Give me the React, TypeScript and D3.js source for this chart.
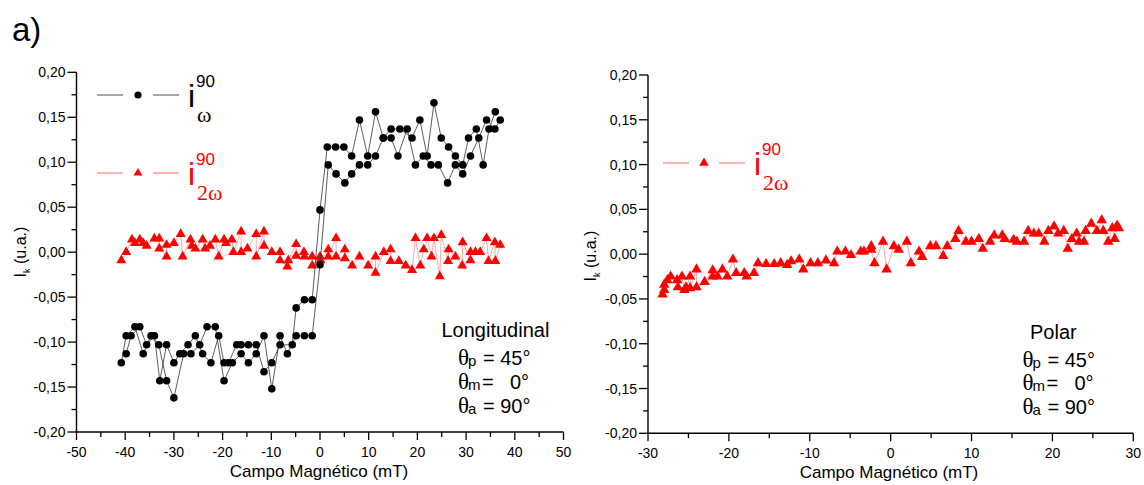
import React from "react";
import * as d3 from "d3";

// ---------- DATA ----------
// Left panel (Longitudinal): i_ω^90, forward and backward field sweeps
const fieldFwdL = [-40.8, -39.8, -38.0, -36.3, -34.7, -33.1, -31.5, -30.0, -28.0, -26.5, -24.7, -23.2, -21.5, -19.7, -18.0, -16.2, -14.7, -13.1, -11.5, -9.9, -8.2, -6.7, -4.9, -3.2, -1.6, 0.0, 1.7, 3.3, 5.1, 6.5, 8.1, 9.8, 11.4, 13.0, 14.6, 16.0, 17.9, 19.6, 21.2, 22.8, 24.3, 26.2, 27.8, 29.3, 30.9, 32.6, 34.2, 35.9, 37.0];
const iOmegaFwd = [-0.123, -0.093, -0.083, -0.113, -0.093, -0.103, -0.143, -0.162, -0.113, -0.113, -0.103, -0.083, -0.083, -0.143, -0.123, -0.113, -0.123, -0.113, -0.093, -0.152, -0.093, -0.113, -0.093, -0.093, -0.093, -0.014, 0.097, 0.087, 0.077, 0.087, 0.097, 0.097, 0.107, 0.127, 0.127, 0.107, 0.137, 0.097, 0.107, 0.097, 0.097, 0.077, 0.097, 0.087, 0.107, 0.127, 0.147, 0.137, 0.147];
const fieldBwdL = [-39.8, -38.8, -37.0, -35.6, -34.0, -32.9, -31.5, -30.0, -28.8, -27.1, -25.6, -24.1, -22.4, -20.8, -19.7, -18.8, -17.1, -16.2, -14.7, -13.1, -11.5, -9.9, -8.2, -5.7, -4.9, -3.2, -1.6, 0.0, 1.5, 3.2, 4.9, 6.5, 8.1, 9.8, 11.4, 13.0, 14.6, 16.4, 18.9, 20.5, 22.0, 23.4, 24.9, 26.4, 27.8, 29.3, 30.5, 32.1, 33.5, 34.7, 36.0];
const iOmegaBwd = [-0.113, -0.093, -0.083, -0.103, -0.093, -0.143, -0.103, -0.123, -0.113, -0.103, -0.093, -0.113, -0.123, -0.093, -0.123, -0.123, -0.103, -0.103, -0.103, -0.103, -0.133, -0.123, -0.103, -0.103, -0.062, -0.053, -0.053, 0.047, 0.117, 0.117, 0.117, 0.107, 0.147, 0.107, 0.156, 0.127, 0.137, 0.137, 0.127, 0.147, 0.107, 0.166, 0.127, 0.117, 0.107, 0.097, 0.127, 0.137, 0.097, 0.137, 0.156];

// Left panel: i_2ω^90
const field2wL = [-40.8, -39.8, -38.6, -38.0, -37.0, -36.3, -35.6, -34.0, -33.0, -33.0, -31.5, -31.5, -30.0, -28.6, -28.2, -26.6, -26.3, -25.6, -24.1, -23.6, -22.6, -21.5, -20.8, -19.7, -19.3, -18.1, -17.8, -16.2, -16.2, -14.9, -13.1, -13.1, -11.5, -11.5, -9.9, -8.2, -8.2, -6.7, -6.5, -4.9, -4.9, -3.3, -3.2, -1.6, -1.6, 0.0, 0.1, 1.7, 1.7, 3.3, 3.3, 5.1, 5.1, 6.6, 8.1, 9.9, 11.4, 11.4, 13.1, 14.5, 14.5, 16.2, 17.6, 18.9, 19.6, 20.6, 21.3, 22.0, 22.9, 23.4, 24.6, 24.9, 26.3, 26.4, 27.8, 29.2, 29.3, 30.9, 30.9, 31.9, 32.9, 34.2, 34.6, 35.9, 36.0, 37.0];
const i2wL = [-0.009, 0.0, 0.014, 0.010, 0.014, 0.010, 0.007, 0.015, 0.015, 0.004, -0.005, 0.008, 0.010, 0.020, -0.005, 0.014, 0.007, 0.004, 0.014, 0.004, 0.007, 0.014, -0.005, 0.014, 0.010, 0.014, 0.0, 0.023, 0.0, 0.004, 0.020, -0.005, 0.023, 0.007, 0.0, 0.0, -0.009, -0.016, -0.009, 0.009, -0.004, 0.0, -0.005, -0.005, -0.015, -0.005, -0.009, 0.003, -0.005, 0.0155, -0.005, 0.003, -0.007, -0.015, -0.005, -0.015, -0.005, -0.023, 0.0, 0.003, -0.010, -0.010, -0.015, -0.020, 0.0155, -0.015, 0.003, 0.0155, -0.005, 0.0155, -0.027, 0.019, -0.010, 0.003, -0.005, -0.015, 0.011, -0.009, 0.0, 0.0, 0.0, 0.0155, -0.010, 0.011, -0.010, 0.008];

// Right panel (Polar): i_2ω^90
const field2wR = [-28.2, -28.0, -28.0, -27.6, -27.2, -26.4, -26.3, -25.8, -25.5, -25.3, -24.8, -24.8, -24.0, -24.0, -23.0, -22.0, -22.0, -21.4, -20.8, -20.2, -19.5, -19.1, -18.1, -17.8, -16.9, -16.4, -15.4, -14.4, -13.6, -12.8, -12.3, -11.3, -10.8, -9.9, -9.0, -8.0, -7.0, -6.6, -5.6, -4.9, -3.7, -3.3, -2.4, -2.4, -2.0, -0.95, -0.5, 0.4, 1.0, 2.0, 2.5, 3.5, 3.9, 4.9, 5.6, 6.5, 7.0, 8.0, 8.4, 9.3, 10.0, 10.9, 11.4, 12.3, 12.8, 13.8, 14.1, 15.2, 15.6, 16.5, 17.0, 17.7, 18.3, 19.0, 19.5, 20.2, 20.7, 21.4, 21.9, 22.4, 23.0, 23.3, 23.9, 24.1, 24.8, 25.5, 26.1, 26.3, 26.9, 27.4, 27.7, 28.0, 28.2];
const i2wR = [-0.045, -0.040, -0.034, -0.029, -0.025, -0.029, -0.037, -0.025, -0.040, -0.037, -0.025, -0.038, -0.017, -0.037, -0.031, -0.018, -0.025, -0.025, -0.017, -0.025, -0.006, -0.021, -0.021, -0.025, -0.021, -0.010, -0.011, -0.011, -0.010, -0.012, -0.008, -0.006, -0.017, -0.010, -0.010, -0.007, -0.010, 0.003, 0.003, -0.001, 0.003, 0.003, 0.009, 0.005, -0.010, 0.014, -0.017, 0.009, 0.005, 0.014, -0.010, 0.003, -0.003, 0.009, 0.009, -0.002, 0.009, 0.017, 0.026, 0.014, 0.014, 0.017, 0.006, 0.014, 0.021, 0.021, 0.017, 0.016, 0.014, 0.014, 0.026, 0.023, 0.023, 0.014, 0.026, 0.031, 0.023, 0.026, 0.006, 0.017, 0.023, 0.014, 0.014, 0.026, 0.034, 0.026, 0.038, 0.026, 0.014, 0.029, 0.017, 0.032, 0.029];

// Ticks
const yTicks = [-0.2, -0.15, -0.1, -0.05, 0, 0.05, 0.1, 0.15, 0.2];
const yMinor = [-0.175, -0.125, -0.075, -0.025, 0.025, 0.075, 0.125, 0.175];
const xTicksL = [-50, -40, -30, -20, -10, 0, 10, 20, 30, 40, 50];
const xMinorL = [-45, -35, -25, -15, -5, 5, 15, 25, 35, 45];
const xTicksR = [-30, -20, -10, 0, 10, 20, 30];
const xMinorR = [-25, -15, -5, 5, 15, 25];

const xTitle = "Campo Magnético (mT)";

// ---------- STYLE ----------
const SANS = "'Liberation Sans', Arial, Helvetica, sans-serif";
const SERIF = "'Liberation Serif', 'Times New Roman', serif";
const RED = "#ff0000";

const fmtY = (v: number) => {
  const r = Math.round(v * 100) / 100;
  return (r < 0 ? "-" : "") + Math.abs(r).toFixed(2).replace(".", ",");
};
const fmtX = (v: number) => (v < 0 ? "-" : "") + Math.abs(v);

type Scale = d3.ScaleLinear<number, number>;

function Axes({ x, y, xTicks, xMinor, titleX }: { x: Scale; y: Scale; xTicks: number[]; xMinor: number[]; titleX: number }) {
  const [x0, x1] = x.range();
  const [yb, yt] = y.range();
  return (
    <g fontFamily={SANS} fill="#000">
      <line x1={x0} x2={x0} y1={yt} y2={yb + 0.5} stroke="#000" strokeWidth={1.4} />
      <line x1={x0 - 0.7} x2={x1} y1={yb} y2={yb} stroke="#000" strokeWidth={1.4} />
      {yTicks.map((t) => (
        <g key={"y" + t}>
          <line x1={x0 - 9} x2={x0} y1={y(t)} y2={y(t)} stroke="#000" strokeWidth={1.3} />
          <text x={x0 - 11} y={y(t) + 5} fontSize={14} textAnchor="end">{fmtY(t)}</text>
        </g>
      ))}
      {yMinor.map((t) => (
        <line key={"ym" + t} x1={x0 - 5} x2={x0} y1={y(t)} y2={y(t)} stroke="#000" strokeWidth={1.3} />
      ))}
      {xTicks.map((t) => (
        <g key={"x" + t}>
          <line x1={x(t)} x2={x(t)} y1={yb} y2={yb + 8} stroke="#000" strokeWidth={1.3} />
          <text x={x(t)} y={yb + 25} fontSize={14} textAnchor="middle">{fmtX(t)}</text>
        </g>
      ))}
      {xMinor.map((t) => (
        <line key={"xm" + t} x1={x(t)} x2={x(t)} y1={yb} y2={yb + 5} stroke="#000" strokeWidth={1.3} />
      ))}
      <text x={titleX} y={yb + 45} fontSize={17} textAnchor="middle">{xTitle}</text>
    </g>
  );
}

function YTitle({ x, y }: { x: number; y: number }) {
  return (
    <text transform={`translate(${x},${y}) rotate(-90)`} fontFamily={SANS} fontSize={16} textAnchor="middle" fill="#000">
      I<tspan fontSize={9} dy={4}>k</tspan><tspan dy={-4}> (u.a.)</tspan>
    </text>
  );
}

function Angles({ x, y0, title, titleX }: { x: number; y0: number[]; title: string; titleX: number }) {
  const rows = [
    { sub: "p", rest: "= 45°", restX: 25 },
    { sub: "m", rest: "=", restX: 24, extra: "0°" },
    { sub: "a", rest: "= 90°", restX: 25 },
  ];
  return (
    <g fill="#000">
      <text x={titleX} y={y0[0] - 28} fontFamily={SANS} fontSize={20}>{title}</text>
      {rows.map((r, i) => (
        <g key={r.sub}>
          <text x={x} y={y0[i]} fontFamily={SERIF} fontSize={23}>θ</text>
          <text x={x + 10} y={y0[i] + 1} fontFamily={SANS} fontSize={15}>{r.sub}</text>
          <text x={x + r.restX} y={y0[i]} fontFamily={SANS} fontSize={20}>{r.rest}</text>
          {r.extra && <text x={x + 52} y={y0[i]} fontFamily={SANS} fontSize={20}>{r.extra}</text>}
        </g>
      ))}
    </g>
  );
}

function LegendEntry({ x, y, kind, color, lineColor, sub, triSize }: { x: number; y: number; kind: "circle" | "tri"; color: string; lineColor: string; sub: string; triSize: number }) {
  const tri = d3.symbol(d3.symbolTriangle).size(triSize)();
  return (
    <g>
      <line x1={x} x2={x + 26} y1={y} y2={y} stroke={lineColor} strokeWidth={1} />
      {kind === "circle" ? (
        <circle cx={x + 41} cy={y} r={3.6} fill={color} />
      ) : (
        <path d={tri as string} transform={`translate(${x + 41},${y})`} fill={color} />
      )}
      <line x1={x + 56} x2={x + 82} y1={y} y2={y} stroke={lineColor} strokeWidth={1} />
      <text x={x + 91} y={y + 12} fontFamily={SANS} fontSize={32} fill={color}>i</text>
      <text x={x + 99} y={y - 8} fontFamily={SANS} fontSize={17} fill={color}>90</text>
      <text x={x + 100} y={y + 27} fontFamily={SERIF} fontSize={22} fill={color}>{sub}</text>
    </g>
  );
}

export default function App() {
  const xL = d3.scaleLinear().domain([-50, 50]).range([76.5, 563.5]);
  const yL = d3.scaleLinear().domain([-0.2, 0.2]).range([432, 72.3]);
  const xR = d3.scaleLinear().domain([-30, 30]).range([648, 1133.3]);
  const yR = d3.scaleLinear().domain([-0.2, 0.2]).range([433.3, 75]);

  const fwd = d3.zip(fieldFwdL, iOmegaFwd) as [number, number][];
  const bwd = d3.zip(fieldBwdL, iOmegaBwd) as [number, number][];
  const redL = d3.zip(field2wL, i2wL) as [number, number][];
  const redR = d3.zip(field2wR, i2wR) as [number, number][];

  const lineL = d3.line<[number, number]>().x((d) => xL(d[0])).y((d) => yL(d[1]));
  const lineR = d3.line<[number, number]>().x((d) => xR(d[0])).y((d) => yR(d[1]));
  const triL = d3.symbol(d3.symbolTriangle).size(44)() as string;
  const triR = d3.symbol(d3.symbolTriangle).size(48)() as string;

  return (
    <svg width={1144} height={485} style={{ position: "absolute", left: 0, top: 0, background: "#fff" }}>
      <rect width={1144} height={485} fill="#fff" />
      <text x={12} y={40.5} fontFamily={SANS} fontSize={33} fill="#000">a)</text>

      {/* Left panel */}
      <Axes x={xL} y={yL} xTicks={xTicksL} xMinor={xMinorL} titleX={319} />
      <YTitle x={25.5} y={252} />
      <path d={lineL(redL) as string} fill="none" stroke="#ff6a6a" strokeWidth={0.6} />
      {redL.map((d, i) => (
        <path key={"rl" + i} d={triL} transform={`translate(${xL(d[0])},${yL(d[1])})`} fill={RED} />
      ))}
      <path d={lineL(fwd) as string} fill="none" stroke="#333" strokeWidth={0.8} />
      <path d={lineL(bwd) as string} fill="none" stroke="#333" strokeWidth={0.8} />
      {fwd.concat(bwd).map((d, i) => (
        <circle key={"b" + i} cx={xL(d[0])} cy={yL(d[1])} r={3.8} fill="#000" />
      ))}
      <LegendEntry x={97} y={95} kind="circle" color="#000" lineColor="#555" sub="ω" triSize={34} />
      <LegendEntry x={97} y={173} kind="tri" color={RED} lineColor="#ff6a6a" sub="2ω" triSize={34} />
      <Angles x={458} y0={[364.5, 388.5, 412.5]} title="Longitudinal" titleX={441.5} />

      {/* Right panel */}
      <Axes x={xR} y={yR} xTicks={xTicksR} xMinor={xMinorR} titleX={889} />
      <YTitle x={596} y={256} />
      <path d={lineR(redR) as string} fill="none" stroke="#ff6a6a" strokeWidth={0.6} />
      {redR.map((d, i) => (
        <path key={"rr" + i} d={triR} transform={`translate(${xR(d[0])},${yR(d[1])})`} fill={RED} />
      ))}
      <LegendEntry x={663} y={163} kind="tri" color={RED} lineColor="#ff6a6a" sub="2ω" triSize={40} />
      <Angles x={1022.5} y0={[366.5, 390, 414]} title="Polar" titleX={1030} />
    </svg>
  );
}
